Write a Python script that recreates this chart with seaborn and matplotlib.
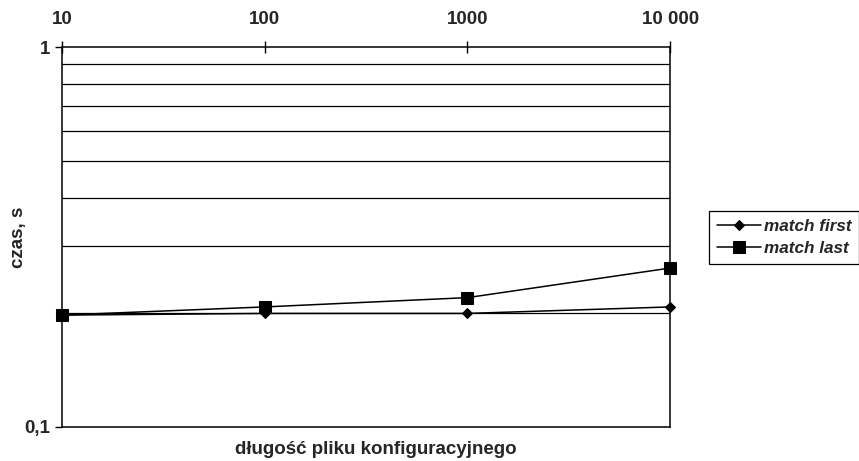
import pandas as pd
import matplotlib
matplotlib.use("Agg")
import matplotlib.pyplot as plt
from matplotlib.ticker import FixedLocator, NullLocator
import seaborn as sns

# dane
dlugosci = ["10", "100", "1000", "10 000"]
match_first = [0.197, 0.199, 0.199, 0.207]
match_last = [0.197, 0.207, 0.219, 0.262]

sns.set_style("white")
plt.rcParams['font.family'] = ['Liberation Sans', 'DejaVu Sans']
plt.rcParams['font.weight'] = 'bold'

df = pd.DataFrame({
    'poz': list(range(len(dlugosci))) * 2,
    'czas': match_first + match_last,
    'seria': ['match first'] * len(dlugosci) + ['match last'] * len(dlugosci),
})

fig = plt.figure(figsize=(8.59, 4.61), dpi=100)
ax = fig.add_axes([0.0722, 0.0738, 0.708, 0.8242])

sns.lineplot(data=df, x='poz', y='czas', style='seria', hue='seria',
             palette=['black', 'black'], markers={'match first': 'D', 'match last': 's'},
             dashes=False, markersize=8, linewidth=1.1, markeredgecolor='black',
             ax=ax)
ax.lines[0].set_markersize(5.5)
for ln in ax.lines:
    ln.set_clip_on(False)

ax.set_yscale('log')
ax.set_ylim(0.1, 1)
ax.set_xlim(0, len(dlugosci) - 1)

# siatka pozioma na 0.2 ... 0.9
for v in [0.2, 0.3, 0.4, 0.5, 0.6, 0.7, 0.8, 0.9]:
    ax.axhline(v, color='black', linewidth=0.9, zorder=0)

ax.yaxis.set_major_locator(FixedLocator([0.1, 1]))
ax.yaxis.set_minor_locator(NullLocator())
ax.set_yticklabels(['0,1', '1'], fontsize=13.5, fontweight='bold')
ax.tick_params(axis='y', direction='out', length=5, width=1, color='black', left=True)

ax.set_xticks(range(len(dlugosci)))
ax.set_xticklabels(dlugosci, fontsize=13.5, fontweight='bold')
ax.xaxis.tick_top()
ax.tick_params(axis='x', direction='inout', length=8, width=1, color='black', top=True, bottom=False, pad=10)

for s in ax.spines.values():
    s.set_color('black')
    s.set_linewidth(1.1)

ax.set_xlabel('')
ax.set_ylabel('')
fig.text(0.437, 0.024, 'długość pliku konfiguracyjnego', fontsize=13.5, fontweight='bold',
         ha='center', va='center')
fig.text(0.022, 0.486, 'czas, s', fontsize=13.5, fontweight='bold',
         rotation=90, ha='center', va='center')

handles, labels = ax.get_legend_handles_labels()
ax.get_legend().remove()
handles[0].set_markersize(5.5)
leg = fig.legend(handles, labels, loc='upper left', bbox_to_anchor=(0.8254, 0.5423),
                 frameon=True, fancybox=False, edgecolor='black', framealpha=1,
                 prop={'family': 'Liberation Sans', 'weight': 'bold', 'style': 'italic', 'size': 12.3},
                 handlelength=2.6, handletextpad=0.15, borderpad=0.45, labelspacing=0.45,
                 borderaxespad=0)
leg.get_frame().set_linewidth(0.9)

fig.savefig('out.png', dpi=100)
